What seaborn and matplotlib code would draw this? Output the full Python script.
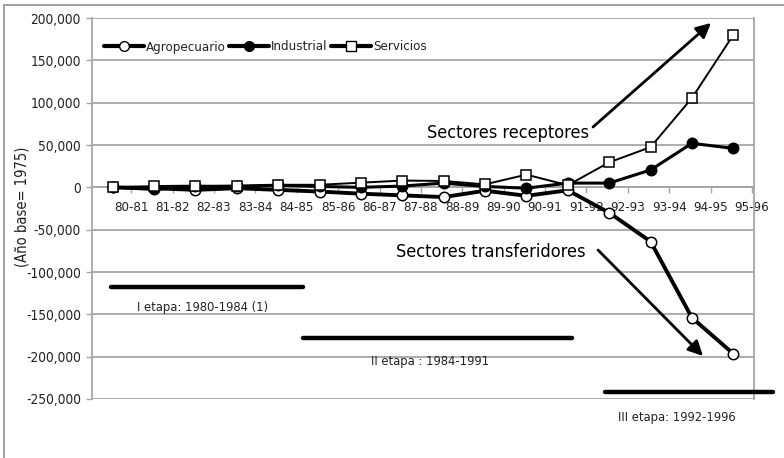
import numpy as np
import pandas as pd
import matplotlib
matplotlib.use("Agg")
import matplotlib.pyplot as plt
from matplotlib.lines import Line2D
from matplotlib import font_manager
import seaborn as sns

# Periods (x categories)
periodos = ["80-81", "81-82", "82-83", "83-84", "84-85", "85-86", "86-87", "87-88",
            "88-89", "89-90", "90-91", "91-92", "92-93", "93-94", "94-95", "95-96"]

# Values (base year 1975)
agropecuario = [0, -1000, -3000, -1000, -3000, -5000, -7500, -9500,
                -11500, -4000, -10000, -3500, -30000, -64000, -154000, -196500]
industrial = [0, -2500, 1000, 1500, 2500, 1000, 0, 1500,
              5000, 1000, -1000, 5000, 5000, 20500, 52000, 46000]
servicios = [0, 1500, 2000, 1000, 3000, 3000, 5500, 8000,
             7500, 3500, 15000, 2500, 29500, 47500, 105500, 180000]

y_ticks = [200000, 150000, 100000, 50000, 0, -50000, -100000, -150000, -200000, -250000]

df = pd.DataFrame({
    "pos": np.arange(len(periodos)),
    "Agropecuario": agropecuario,
    "Industrial": industrial,
    "Servicios": servicios,
})

sns.set_style("white")
names = {f.name for f in font_manager.fontManager.ttflist}
if "Liberation Sans Narrow" in names:
    plt.rcParams["font.family"] = ["Liberation Sans Narrow", "DejaVu Sans"]
else:
    plt.rcParams["font.family"] = ["DejaVu Sans"]
    plt.rcParams["font.stretch"] = "condensed"

W, H = 784, 458
fig = plt.figure(figsize=(W / 100, H / 100), dpi=100)
ax = fig.add_axes([92 / W, 1 - 399 / H, (754 - 92) / W, (399 - 18) / H])


def px(x, y):
    # pixel coords (from top-left) -> figure fraction
    return (x / W, 1 - y / H)


grid_col = "#a6a6a6"
txt_col = "#222222"

# series
sns.lineplot(data=df, x="pos", y="Agropecuario", ax=ax, color="black", lw=2.8,
             marker="o", markersize=7.5, markerfacecolor="white", markeredgecolor="black",
             markeredgewidth=1.1, zorder=3)
sns.lineplot(data=df, x="pos", y="Industrial", ax=ax, color="black", lw=2.2,
             marker="o", markersize=7.5, markerfacecolor="black", markeredgecolor="black",
             markeredgewidth=1.1, zorder=4)
sns.lineplot(data=df, x="pos", y="Servicios", ax=ax, color="black", lw=1.4,
             marker="s", markersize=6.5, markerfacecolor="white", markeredgecolor="black",
             markeredgewidth=1.1, zorder=5)

ax.set_xlim(-0.5, len(periodos) - 0.5)
ax.set_ylim(-250000, 200000)
ax.set_yticks(y_ticks)
ax.set_yticklabels([f"{v:,}" for v in y_ticks])
ax.set_xticks(np.arange(len(periodos)) + 0.45)
ax.set_xticklabels(periodos)
ax.set_xlabel("")
ax.set_ylabel("")

ax.grid(axis="y", color=grid_col, lw=1.3)
ax.grid(axis="x", visible=False)
ax.set_axisbelow(True)
ax.spines["top"].set_visible(False)
ax.spines["bottom"].set_position(("data", 0))
for s in ["left", "right", "bottom"]:
    ax.spines[s].set_color(grid_col)
    ax.spines[s].set_linewidth(1.3)
ax.tick_params(axis="x", direction="out", length=4, width=1, color=grid_col,
               pad=6, labelsize=9.5, labelcolor=txt_col)
ax.tick_params(axis="y", direction="out", length=4, width=1, color=grid_col,
               pad=4, labelsize=9.8, labelcolor=txt_col)
ax.tick_params(left=True, bottom=True)

# y label
fig.text(*px(22, 207), "(Año base= 1975)", rotation=90, ha="center", va="center",
         fontsize=10.5, color=txt_col)

# legend
handles = [
    Line2D([], [], color="black", lw=3, marker="o", markersize=7,
           markerfacecolor="white", markeredgecolor="black"),
    Line2D([], [], color="black", lw=3, marker="o", markersize=7,
           markerfacecolor="black", markeredgecolor="black"),
    Line2D([], [], color="black", lw=3, marker="s", markersize=6.5,
           markerfacecolor="white", markeredgecolor="black"),
]
fig.legend(handles, ["Agropecuario", "Industrial", "Servicios"], loc="center left",
           bbox_to_anchor=px(104, 47), ncol=3, frameon=False, fontsize=9.5,
           handlelength=3.0, handletextpad=0.15, columnspacing=0.3, borderpad=0,
           borderaxespad=0, labelcolor=txt_col)

# stage bars and labels
for (x0, x1, y) in [(111, 303, 287), (303, 572, 338), (605, 773, 392)]:
    fig.add_artist(Line2D([x0 / W, x1 / W], [1 - y / H, 1 - y / H], color="black",
                          lw=3.2, transform=fig.transFigure, clip_on=False))
fig.text(*px(203, 307), "I etapa: 1980-1984 (1)", ha="center", va="center",
         fontsize=9.3, color=txt_col)
fig.text(*px(430, 362), "II etapa : 1984-1991", ha="center", va="center",
         fontsize=9.3, color=txt_col)
fig.text(*px(677, 418), "III etapa: 1992-1996", ha="center", va="center",
         fontsize=9.3, color=txt_col)

# sector annotations with arrows
fig.text(*px(508, 133), "Sectores receptores", ha="center", va="center",
         fontsize=13, color="black")
fig.text(*px(491, 252), "Sectores transferidores", ha="center", va="center",
         fontsize=13, color="black")
ax.annotate("", xy=px(711, 23), xytext=px(593, 127), xycoords="figure fraction",
            textcoords="figure fraction",
            arrowprops=dict(arrowstyle="-|>", lw=2, color="black", mutation_scale=22,
                            shrinkA=0, shrinkB=0))
ax.annotate("", xy=px(703, 356), xytext=px(598, 250), xycoords="figure fraction",
            textcoords="figure fraction",
            arrowprops=dict(arrowstyle="-|>", lw=2, color="black", mutation_scale=22,
                            shrinkA=0, shrinkB=0))

# outer frame (top and left edges)
fig.add_artist(Line2D([4 / W, 1], [1 - 5 / H, 1 - 5 / H], color="#999999", lw=1.3,
                      transform=fig.transFigure))
fig.add_artist(Line2D([4 / W, 4 / W], [0, 1 - 5 / H], color="#999999", lw=1.3,
                      transform=fig.transFigure))

fig.savefig("out.png", dpi=100)
